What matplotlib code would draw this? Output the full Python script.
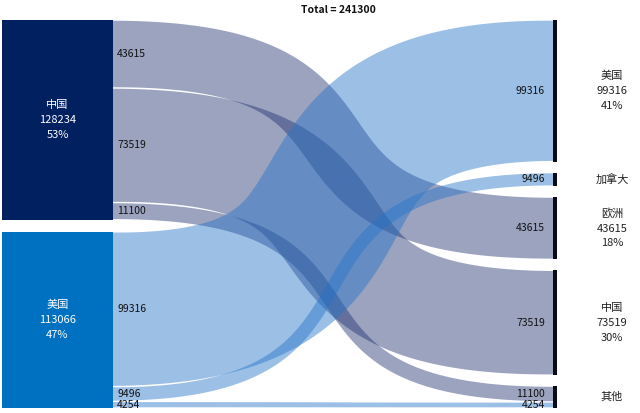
import numpy as np
import matplotlib.pyplot as plt
from matplotlib.patches import Rectangle, Polygon

plt.rcParams['font.family'] = ['Noto Sans CJK SC', 'DejaVu Sans']

sources = ['中国', '美国']
targets = ['美国', '加拿大', '欧洲', '中国', '其他']
target_detail = [True, False, True, True, False]  # show value / share under the name

flow_from = ['中国', '中国', '中国', '美国', '美国', '美国']
flow_to = ['欧洲', '中国', '其他', '美国', '加拿大', '其他']
flow_val = [43615, 73519, 11100, 99316, 9496, 4254]

src_colors = {'中国': '#002060', '美国': '#0070C0'}
flow_colors = {'中国': '#213371', '美国': '#2573C8'}

W, H = 640, 413
fig = plt.figure(figsize=(W / 100, H / 100), dpi=100)
ax = fig.add_axes([0, 0, 1, 1])
ax.set_xlim(0, W)
ax.set_ylim(H, 0)
ax.axis('off')

total = sum(flow_val)
top, bottom = 20, 408
lx0, lx1 = 2, 113      # left node box
rx = 553               # right edge of flows
left_gap, right_gap = 12, 11

src_tot = [sum(v for f, v in zip(flow_from, flow_val) if f == s) for s in sources]
tgt_tot = [sum(v for t, v in zip(flow_to, flow_val) if t == s) for s in targets]

lscale = (bottom - top - left_gap * (len(sources) - 1)) / total
rscale = (bottom - top - right_gap * (len(targets) - 1)) / total

# left nodes
src_y = {}
y = top
for s, v in zip(sources, src_tot):
    h = v * lscale
    src_y[s] = y
    ax.add_patch(Rectangle((lx0, y), lx1 - lx0, h, color=src_colors[s], lw=0))
    ax.text((lx0 + lx1) / 2, y + h / 2, f'{s}\n{v}\n{round(v / total * 100)}%',
            color='white', ha='center', va='center', fontsize=8, linespacing=1.6)
    y += h + left_gap

# right nodes
tgt_y = {}
y = top
for t, v, d in zip(targets, tgt_tot, target_detail):
    h = v * rscale
    tgt_y[t] = y
    ax.add_patch(Rectangle((rx, y), 4, h, color='#0b0b18', lw=0))
    lab = f'{t}\n{v}\n{round(v / total * 100)}%' if d else t
    ax.text(612, y + h / 2, lab, color='#222222', ha='center', va='center',
            fontsize=8, linespacing=1.6)
    y += h + right_gap


def ribbon(ya0, yb0, ya1, yb1, k=0.72, n=400):
    # thick bezier band: centre line plus a width measured across the curve
    t = np.linspace(0, 1, n)
    dx = rx - lx1
    yc0, yc1 = (ya0 + yb0) / 2, (ya1 + yb1) / 2
    w0, w1 = yb0 - ya0, yb1 - ya1
    px = [lx1, lx1 + k * dx, rx - k * dx, rx]
    py = [yc0, yc0, yc1, yc1]
    b = [(1 - t) ** 3, 3 * (1 - t) ** 2 * t, 3 * (1 - t) * t ** 2, t ** 3]
    db = [-3 * (1 - t) ** 2, 3 * (1 - t) * (1 - 3 * t), 3 * t * (2 - 3 * t), 3 * t ** 2]
    cx = sum(bi * p for bi, p in zip(b, px))
    cy = sum(bi * p for bi, p in zip(b, py))
    tx = sum(bi * p for bi, p in zip(db, px))
    ty = sum(bi * p for bi, p in zip(db, py))
    ln = np.hypot(tx, ty)
    nx, ny = -ty / ln, tx / ln
    half = (w0 + (w1 - w0) * t) / 2
    upper = np.column_stack([cx - nx * half, cy - ny * half])
    lower = np.column_stack([cx + nx * half, cy + ny * half])
    return np.vstack([upper, lower[::-1]])


lpos = dict(src_y)
rpos = dict(tgt_y)
# right side: flows within a target are stacked in source order
order = sorted(range(len(flow_val)), key=lambda i: sources.index(flow_from[i]))
rstart = {}
for i in order:
    rstart[i] = rpos[flow_to[i]]
    rpos[flow_to[i]] += flow_val[i] * rscale

pad = 0.7
for i, (f, to, v) in enumerate(zip(flow_from, flow_to, flow_val)):
    y0a = lpos[f]
    y0b = y0a + v * lscale
    lpos[f] = y0b
    y1a = rstart[i]
    y1b = y1a + v * rscale
    poly = ribbon(y0a + pad, y0b - pad, y1a + pad, y1b - pad)
    ax.add_patch(Polygon(poly, closed=True, facecolor=flow_colors[f],
                         alpha=0.45, lw=0))
    ax.text(lx1 + 4, (y0a + y0b) / 2, str(v), ha='left', va='center',
            fontsize=7.5, color='#111111')
    ax.text(rx - 8, (y1a + y1b) / 2, str(v), ha='right', va='center',
            fontsize=7.5, color='#111111')

ax.text(338, 10, f'Total = {total}', ha='center', va='center',
        fontsize=7.5, fontweight='bold', color='#111111')

fig.savefig('out.png', dpi=100)
